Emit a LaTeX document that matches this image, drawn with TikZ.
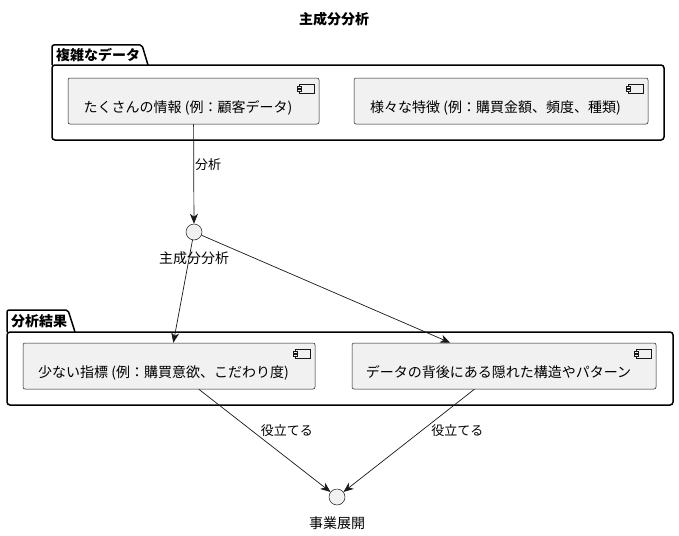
\documentclass[tikz,border=0pt]{standalone}
\usepackage{fontspec}
\setmainfont{Noto Sans CJK JP}
\usetikzlibrary{arrows.meta}
\definecolor{compfill}{HTML}{F1F1F1}
\definecolor{edge}{HTML}{181818}

\begin{document}
\begin{tikzpicture}[x=1pt,y=-1pt,
    comp/.style={draw=edge,fill=compfill,line width=0.5pt,rounded corners=2pt,
      minimum height=46pt,text height=24pt,text depth=2pt,font=\fontsize{14}{16}\selectfont,
      execute at end node=\hspace*{11pt}},
    usecase/.style={circle,draw=edge,fill=compfill,line width=0.5pt,minimum size=16pt,inner sep=0},
    pkg/.style={draw=black,line width=1.5pt,fill=white},
    pkgtitle/.style={anchor=west,inner sep=0,font=\bfseries\fontsize{14}{16}\selectfont},
    flow/.style={-{Stealth[length=10pt,width=8pt,inset=3pt]},line width=0.7pt,draw=edge},
    lbl/.style={font=\fontsize{13}{15}\selectfont,inner sep=1pt}]

  \useasboundingbox (0,0) rectangle (679,535);

  % Title
  \node[font=\bfseries\fontsize{14}{16}\selectfont] (title) at (334,19) {主成分分析};

  % Packages
  \draw[pkg,rounded corners=2pt] (52,65) -- (52,45) -- (142,45) -- (148,65);
  \draw[pkg,rounded corners=3pt] (52,65) rectangle (664,140);
  \node[pkgtitle] (datatitle) at (56,55) {複雑なデータ};

  \draw[pkg,rounded corners=2pt] (7,332) -- (7,310) -- (68,310) -- (75,332);
  \draw[pkg,rounded corners=3pt] (7,332) rectangle (673,405);
  \node[pkgtitle] (resulttitle) at (11,321) {分析結果};

  % Components
  \node[comp,minimum width=251pt] (info) at (193.5,101) {たくさんの情報 (例：顧客データ)};
  \node[comp,minimum width=294pt] (feat) at (501,101) {様々な特徴 (例：購買金額、頻度、種類)};
  \node[comp,minimum width=292pt] (idx) at (169,366) {少ない指標 (例：購買意欲、こだわり度)};
  \node[comp,minimum width=304pt] (patt) at (504,366) {データの背後にある隠れた構造やパターン};

  \foreach \c in {info,feat,idx,patt}{%
    \draw[edge,line width=0.5pt,fill=compfill,shift={(\c.north east)}] (-20,6) rectangle (-5,15);
    \draw[edge,line width=0.5pt,fill=compfill,shift={(\c.north east)}] (-22,8) rectangle (-18,10);
    \draw[edge,line width=0.5pt,fill=compfill,shift={(\c.north east)}] (-22,11) rectangle (-18,13);}

  % Use cases
  \node[usecase] (pca) at (194,232) {};
  \node[font=\fontsize{14}{16}\selectfont] (pcalabel) at (194,258) {主成分分析};
  \node[usecase] (biz) at (337,497) {};
  \node[font=\fontsize{14}{16}\selectfont] (bizlabel) at (337,523) {事業展開};

  % Flows
  \draw[flow] (info) -- (pca) node[lbl,pos=0.41,right] {分析};
  \draw[flow] (pca) -- (idx);
  \draw[flow] (pca) -- (patt);
  \draw[flow] (idx) -- (biz) node[lbl,pos=0.4,right=8pt] {役立てる};
  \draw[flow] (patt) -- (biz) node[lbl,pos=0.4,right=8pt] {役立てる};

\end{tikzpicture}
\end{document}
